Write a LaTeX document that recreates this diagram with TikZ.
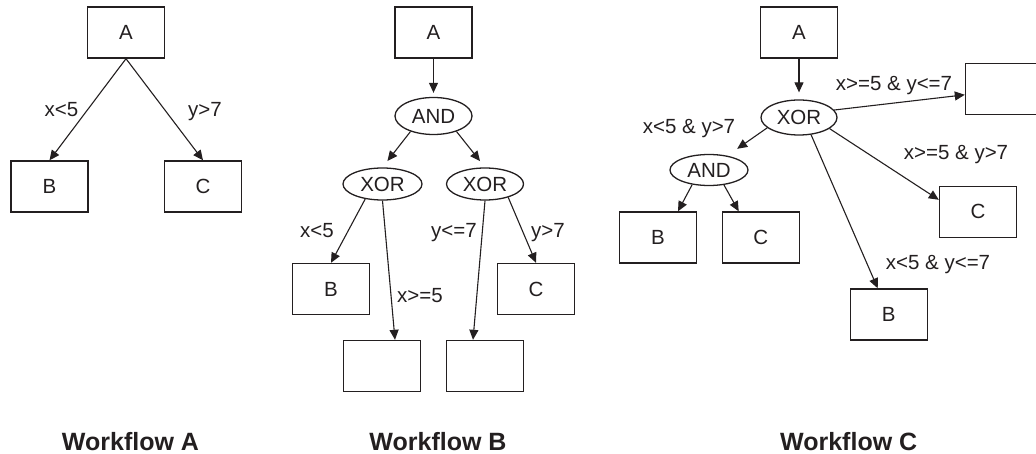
\documentclass[tikz,border=0pt]{standalone}
\usepackage{fontspec}
\setmainfont{Liberation Sans}
\usetikzlibrary{shapes.geometric,arrows.meta}
\definecolor{ink}{RGB}{35,31,32}
\begin{document}
\begin{tikzpicture}[x=1pt,y=-1pt,
  every node/.style={text=ink},
  lbl/.style={font=\fontsize{20.5}{24}\selectfont, anchor=base, inner sep=0pt},
  tbox/.style={draw=ink, line width=1.4pt, minimum width=77pt, minimum height=51pt, inner sep=0pt, font=\fontsize{20.5}{24}\selectfont},
  gate/.style={ellipse, draw=ink, line width=1.3pt, inner sep=0pt, font=\fontsize{20.5}{24}\selectfont},
  arr/.style={draw=ink, line width=1.1pt, -{Triangle[length=10pt,width=9pt]}},
  title/.style={font=\fontsize{25}{30}\selectfont\bfseries, anchor=base, inner sep=0pt}
]
\useasboundingbox (0,0) rectangle (1036,454);
\clip (0,0) rectangle (1036,454);

% ---------------- Workflow A ----------------
\node[tbox] (A1) at (126,32.5) {A};
\node[tbox] (B1) at (49.5,186.5) {B};
\node[tbox] (C1) at (203,186.5) {C};
\draw[arr] (A1.south) -- (B1.north);
\draw[arr] (A1.south) -- (C1.north);
\node[lbl] (l1) at (61.5,116.7) {x<5};
\node[lbl] (l2) at (205,116.7) {y>7};
\node[title] (t1) at (130.5,450) {Workflow A};

% ---------------- Workflow B ----------------
\node[tbox] (A2) at (433.5,32.5) {A};
\node[gate, minimum width=77pt, minimum height=37pt] (AND2) at (433.5,116) {AND};
\node[gate, minimum width=79pt, minimum height=32pt] (XL) at (382.5,184) {XOR};
\node[gate, minimum width=77pt, minimum height=32pt] (XR) at (485,184) {XOR};
\node[tbox] (B2) at (331,289) {B};
\node[tbox] (C2) at (536,289) {C};
\node[tbox] (E1) at (382,366) {};
\node[tbox] (E2) at (485,366) {};
\draw[arr, shorten >=4pt] (A2.south) -- (AND2.north);
\draw[arr, shorten >=8pt] (AND2.214) -- (XL.north);
\draw[arr, shorten >=8pt] (AND2.326) -- (XR.north);
\draw[arr] (XL.221) -- (B2.north);
\draw[arr] (XL.south) -- ([xshift=13pt]E1.north);
\draw[arr] (XR.south) -- ([xshift=-12pt]E2.north);
\draw[arr] (XR.330) -- (C2.north);
\node[lbl] (l3) at (317,237.3) {x<5};
\node[lbl] (l4) at (420,302) {x>=5};
\node[lbl] (l5) at (454,237.3) {y<=7};
\node[lbl] (l6) at (548,237.3) {y>7};
\node[title] (t2) at (438,450) {Workflow B};

% ---------------- Workflow C ----------------
\node[tbox] (A3) at (799,32.5) {A};
\node[gate, minimum width=76pt, minimum height=35pt] (XOR3) at (799,117.5) {XOR};
\node[gate, minimum width=78pt, minimum height=31pt] (AND3) at (709,170) {AND};
\node[tbox] (B3) at (658,237.5) {B};
\node[tbox] (C3) at (760.7,237.5) {C};
\node[tbox] (R3) at (1004,88.8) {};
\node[tbox] (C4) at (978,211.8) {C};
\node[tbox] (B4) at (888.7,314.5) {B};
\draw[arr, shorten >=7pt] (A3.south) -- (XOR3.north);
\draw[arr] (XOR3.12) -- ([yshift=-6pt]R3.west);
\draw[arr, shorten >=12pt] (XOR3.198) -- (AND3.38);
\draw[arr] (AND3.221) -- ([xshift=20pt]B3.north);
\draw[arr] (AND3.315) -- ([xshift=-22pt]C3.north);
\draw[arr] (XOR3.340) -- ([yshift=12pt]C4.west);
\draw[arr] (XOR3.305) -- ([xshift=-11pt]B4.north);
\node[lbl] (l7) at (894,90.7) {x>=5 \& y<=7};
\node[lbl] (l8) at (689,133.3) {x<5 \& y>7};
\node[lbl] (l9) at (956,159.3) {x>=5 \& y>7};
\node[lbl] (l10) at (938,269.3) {x<5 \& y<=7};
\node[title] (t3) at (848.7,450) {Workflow C};
\end{tikzpicture}
\end{document}
